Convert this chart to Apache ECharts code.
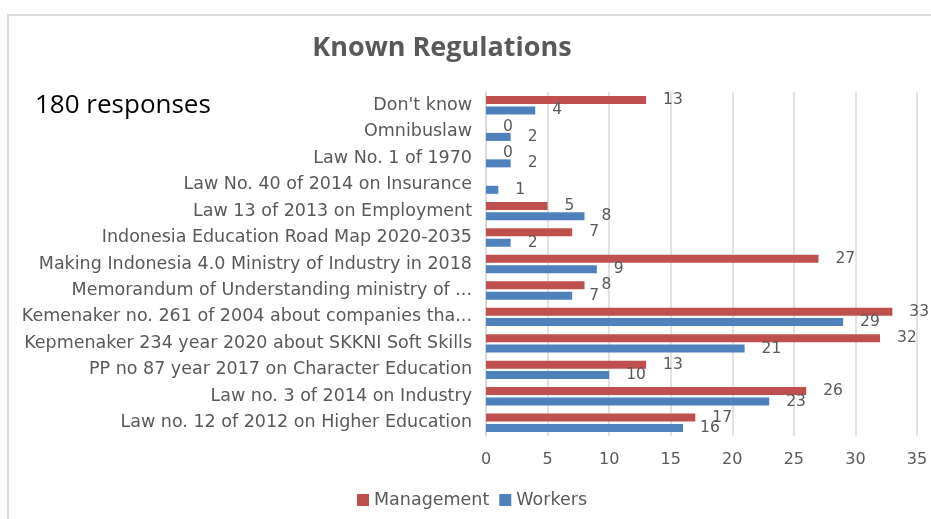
<!DOCTYPE html>
<html>
<head>
<meta charset="utf-8">
<script src="https://cdn.jsdelivr.net/npm/echarts@6/dist/echarts.min.js"></script>
<style>
    html, body { margin: 0; padding: 0; background: #fff; }
    #chart { width: 931px; height: 519px; }
</style>
</head>
<body>
<div id="chart"></div>
<script>
    // 类目（从上到下）
    const categories = [
        "Don't know",
        'Omnibuslaw',
        'Law No. 1 of 1970',
        'Law No. 40 of 2014 on Insurance',
        'Law 13 of 2013 on Employment',
        'Indonesia Education Road Map 2020-2035',
        'Making Indonesia 4.0 Ministry of Industry in 2018',
        'Memorandum of Understanding ministry of ...',
        'Kemenaker no. 261 of 2004 about companies tha...',
        'Kepmenaker 234 year 2020 about SKKNI Soft Skills',
        'PP no 87 year 2017 on Character Education',
        'Law no. 3 of 2014 on Industry',
        'Law no. 12 of 2012 on Higher Education'
    ];
    const management = [13, 0, 0, null, 5, 7, 27, 8, 33, 32, 13, 26, 17];
    const workers = [4, 2, 2, 1, 8, 2, 9, 7, 29, 21, 10, 23, 16];
    const xTicks = [0, 35, 5]; // min, max, interval

    const textColor = '#595959';
    const gridColor = '#d9d9d9';
    const font = '"DejaVu Sans", sans-serif';

    const chart = echarts.init(document.getElementById('chart'));
    chart.setOption({
        animation: false,
        graphic: [
            {
                type: 'rect',
                shape: {x: 8, y: 15, width: 960, height: 540},
                style: {fill: 'none', stroke: '#dcdcdc', lineWidth: 2}
            },
            {
                type: 'text',
                x: 35,
                y: 106,
                style: {
                    text: '180 responses',
                    fill: '#000',
                    font: '26px "Open Sans", sans-serif',
                    verticalAlign: 'middle'
                }
            }
        ],
        title: {
            text: 'Known Regulations',
            left: 437,
            textAlign: 'center',
            top: 30,
            textStyle: {
                color: textColor,
                fontSize: 27,
                fontWeight: 'bold',
                fontFamily: '"Open Sans", sans-serif'
            }
        },
        legend: {
            bottom: 5,
            left: 352,
            icon: 'rect',
            itemWidth: 12,
            itemHeight: 12,
            itemGap: 10,
            textStyle: {color: textColor, fontSize: 17.5, fontFamily: font}
        },
        grid: {
            left: 486,
            right: 14,
            top: 92,
            bottom: 83
        },
        xAxis: {
            type: 'value',
            min: xTicks[0],
            max: xTicks[1],
            interval: xTicks[2],
            axisLine: {show: false},
            axisTick: {show: false},
            axisLabel: {color: textColor, fontSize: 16, margin: 16, fontFamily: font},
            splitLine: {lineStyle: {color: gridColor, width: 1.5}}
        },
        yAxis: {
            type: 'category',
            inverse: true,
            data: categories,
            axisLine: {lineStyle: {color: gridColor, width: 1.5}},
            axisTick: {show: false},
            axisLabel: {color: textColor, fontSize: 17.5, margin: 14, fontFamily: font}
        },
        series: [
            {
                name: 'Management',
                type: 'bar',
                data: management,
                barWidth: 8,
                barGap: '30%',
                itemStyle: {color: '#C0504D'},
                label: {
                    show: true,
                    position: 'right',
                    distance: 17,
                    color: textColor,
                    fontSize: 15.5,
                    fontFamily: font
                }
            },
            {
                name: 'Workers',
                type: 'bar',
                data: workers,
                barWidth: 8,
                barGap: '30%',
                itemStyle: {color: '#4F81BD'},
                label: {
                    show: true,
                    position: 'right',
                    distance: 17,
                    color: textColor,
                    fontSize: 15.5,
                    fontFamily: font
                }
            }
        ]
    });
</script>
</body>
</html>
